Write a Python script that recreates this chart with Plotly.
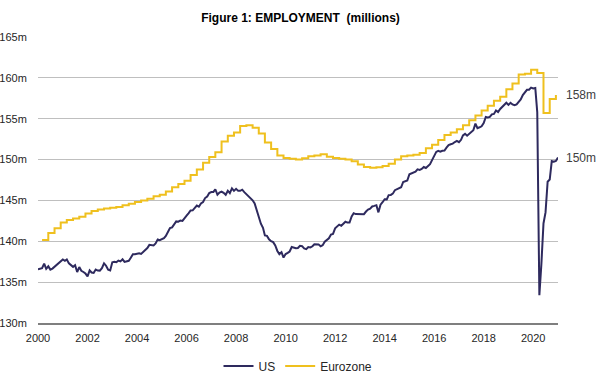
import plotly.graph_objects as go
import pandas as pd

# ---------------- data ----------------
us_start = "2000-01-01"
us_values = [
    # 2000
    136.56, 136.60, 136.70, 137.27, 136.63, 136.94, 136.53, 136.66, 136.89, 137.09, 137.32, 137.61,
    # 2001
    137.78, 137.61, 137.78, 137.30, 137.09, 136.87, 137.07, 136.24, 136.85, 136.39, 136.24, 136.05,
    # 2002
    135.70, 136.44, 136.18, 136.13, 136.54, 136.42, 136.41, 136.71, 137.30, 137.01, 136.52, 136.43,
    # 2003
    137.42, 137.48, 137.43, 137.63, 137.54, 137.79, 137.47, 137.55, 137.61, 137.98, 138.42, 138.41,
    # 2004
    138.47, 138.54, 138.45, 138.68, 138.85, 139.17, 139.56, 139.57, 139.49, 139.73, 140.23, 140.13,
    # 2005
    140.25, 140.39, 140.65, 141.25, 141.61, 141.71, 142.03, 142.43, 142.40, 142.55, 142.50, 142.75,
    # 2006
    143.14, 143.44, 143.77, 143.79, 144.11, 144.37, 144.23, 144.63, 144.80, 145.29, 145.48, 145.91,
    # 2007
    146.03, 146.04, 146.37, 145.69, 145.95, 146.08, 145.93, 145.69, 146.19, 145.89, 146.48, 146.17,
    # 2008
    146.42, 146.17, 146.17, 146.31, 146.02, 145.77, 145.52, 145.19, 145.02, 144.62, 143.73, 143.00,
    # 2009
    142.15, 141.64, 140.71, 140.66, 140.25, 140.01, 139.90, 139.49, 138.82, 138.43, 138.66, 138.01,
    # 2010
    138.44, 138.58, 138.75, 139.30, 139.24, 139.14, 139.18, 139.44, 139.40, 139.12, 139.04, 139.30,
    # 2011
    139.25, 139.39, 139.64, 139.59, 139.62, 139.38, 139.52, 139.94, 140.18, 140.37, 140.83, 140.90,
    # 2012
    141.58, 141.86, 142.04, 141.90, 142.21, 142.39, 142.29, 142.29, 143.04, 143.43, 143.33, 143.33,
    # 2013
    143.29, 143.36, 143.32, 143.64, 143.88, 144.00, 144.26, 144.33, 144.42, 143.54, 144.48, 144.78,
    # 2014
    145.15, 145.13, 145.65, 145.67, 145.83, 146.25, 146.40, 146.45, 146.61, 147.26, 147.33, 147.44,
    # 2015
    148.20, 148.30, 148.33, 148.52, 148.80, 148.74, 148.85, 149.09, 148.97, 149.20, 149.44, 149.93,
    # 2016
    150.54, 150.94, 151.07, 150.96, 151.07, 151.10, 151.45, 151.77, 151.88, 151.95, 152.15, 152.28,
    # 2017
    152.13, 152.42, 152.96, 153.15, 152.92, 153.18, 153.46, 153.59, 154.40, 153.85, 153.95, 154.07,
    # 2018
    154.48, 155.21, 155.16, 155.22, 155.54, 155.59, 156.01, 155.81, 156.19, 156.48, 156.80, 156.95,
    # 2019
    156.69, 156.95, 156.75, 156.65, 156.76, 157.01, 157.35, 157.90, 158.30, 158.54, 158.54, 158.80,
    # 2020
    158.71, 158.76, 155.77, 133.40, 137.24, 142.18, 143.53, 147.29, 147.56, 149.81, 149.73, 149.83,
    # 2021
    150.24,
]

ez_start = "2000-03-01"   # quarterly, plotted at quarter-end month
ez_values = [
    # 2000
    140.15, 141.0, 141.6, 142.3,
    # 2001
    142.6, 142.8, 143.0, 143.4,
    # 2002
    143.7, 143.9, 144.0, 144.1,
    # 2003
    144.2, 144.4, 144.6, 144.8,
    # 2004
    145.0, 145.2, 145.5, 145.7,
    # 2005
    146.1, 146.6, 147.0, 147.4,
    # 2006
    148.1, 148.8, 149.6, 150.3,
    # 2007
    150.9, 152.2, 152.9, 153.3,
    # 2008
    154.1, 154.2, 153.9, 153.2,
    # 2009
    152.1, 151.3, 150.5, 150.2,
    # 2010
    150.1, 150.0, 150.15, 150.4,
    # 2011
    150.5, 150.65, 150.35, 150.2,
    # 2012
    150.1, 150.0, 149.8, 149.4,
    # 2013
    149.1, 149.0, 149.05, 149.2,
    # 2014
    149.5, 150.0, 150.4, 150.5,
    # 2015
    150.6, 150.8, 151.4, 151.8,
    # 2016
    152.4, 153.0, 153.3, 153.7,
    # 2017
    154.2, 154.8, 155.4, 156.0,
    # 2018
    156.6, 157.2, 157.7, 158.6,
    # 2019
    159.3, 160.4, 160.5, 161.0,
    # 2020
    160.6, 155.7, 157.4, 157.9,
]

us_dates = pd.date_range(us_start, periods=len(us_values), freq="MS")
ez_dates = pd.date_range(ez_start, periods=len(ez_values), freq="3MS")

y_ticks = [130, 135, 140, 145, 150, 155, 160, 165]
x_ticks = [f"{y}-01-01" for y in range(2000, 2021, 2)]
x_tick_labels = [str(y) for y in range(2000, 2021, 2)]

US_COLOR = "#2E2A5E"
EZ_COLOR = "#EFC01E"
FONT = "Liberation Sans, Arial, sans-serif"

fig = go.Figure()
fig.add_trace(go.Scatter(x=us_dates, y=us_values, mode="lines", name="US",
                         line=dict(color=US_COLOR, width=2)))
fig.add_trace(go.Scatter(x=ez_dates, y=ez_values, mode="lines", name="Eurozone",
                         line=dict(color=EZ_COLOR, width=2, shape="hv")))

for vals in (ez_values, us_values):
    fig.add_annotation(x=1, xref="paper", y=vals[-1], yref="y",
                       text=f"{round(vals[-1])}m", showarrow=False,
                       xanchor="left", xshift=6,
                       font=dict(family=FONT, size=12, color="#404040"))

fig.update_layout(
    width=601, height=379,
    margin=dict(l=38, r=43, t=37, b=56, autoexpand=False),
    paper_bgcolor="white", plot_bgcolor="white",
    font=dict(family=FONT, size=11, color="#262626"),
    title=dict(text="<b>Figure 1: EMPLOYMENT  (millions)</b>", x=0.5, xanchor="center",
               y=1 - 18 / 379, yanchor="middle",
               font=dict(family=FONT, size=12, color="#000000")),
    showlegend=True,
    legend=dict(orientation="h", x=0.5, xanchor="center", y=-0.15, yanchor="middle",
                font=dict(family=FONT, size=12, color="#262626"),
                itemwidth=30, tracegroupgap=0),
    hovermode=False,
)
fig.update_xaxes(type="date", range=["2000-01-01", "2021-01-01"], automargin=False,
                 tickvals=x_ticks, ticktext=x_tick_labels,
                 showgrid=False, zeroline=False,
                 showline=True, linecolor="#7F7F7F", linewidth=2,
                 ticks="outside", ticklen=4, tickcolor="rgba(0,0,0,0)",
                 tickfont=dict(family=FONT, size=11, color="#262626"))
fig.update_yaxes(range=[130, 165], tickvals=y_ticks, automargin=False,
                 ticktext=[f"{v}m" for v in y_ticks],
                 showgrid=True, gridcolor="#BFBFBF", gridwidth=1,
                 zeroline=False, showline=False,
                 ticks="outside", ticklen=8, tickcolor="rgba(0,0,0,0)",
                 tickfont=dict(family=FONT, size=11, color="#262626"))

fig.write_html("out.html", config={"displayModeBar": False},
               post_script="document.body.style.margin='0px';document.body.style.overflow='hidden';")
